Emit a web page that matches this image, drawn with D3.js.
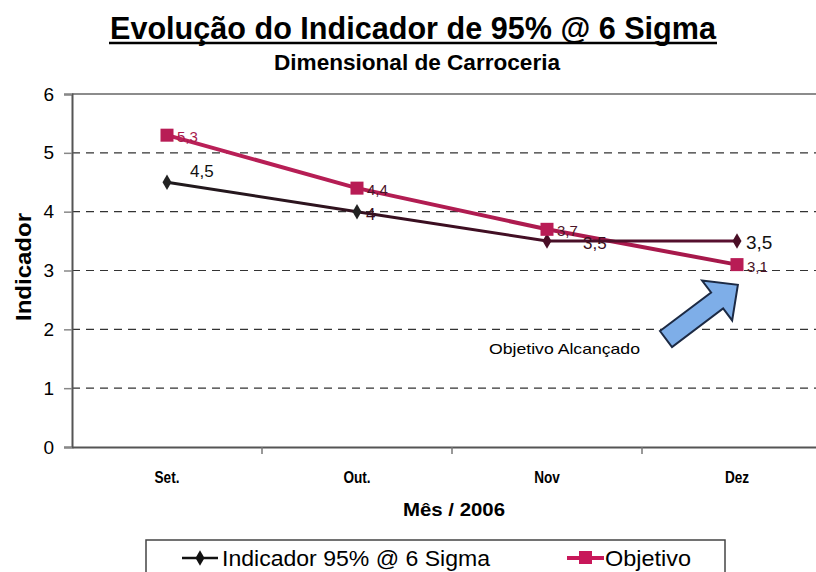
<!DOCTYPE html>
<html>
<head>
<meta charset="utf-8">
<script src="https://cdn.jsdelivr.net/npm/d3@7/dist/d3.min.js"></script>
<style>
  html, body { margin: 0; padding: 0; background: #fff; }
  svg { display: block; }
  text { font-family: "Liberation Sans", Arial, sans-serif; }
</style>
</head>
<body>
<svg id="chart" width="816" height="572"></svg>
<script>
// Data
const months = ["Set.", "Out.", "Nov", "Dez"];
const indicador = [4.5, 4.0, 3.5, 3.5];
const objetivo = [5.3, 4.4, 3.7, 3.1];
const yTicks = [0, 1, 2, 3, 4, 5, 6];
const seriesNames = ["Indicador 95% @ 6 Sigma", "Objetivo"];

const fmt = v => String(v).replace(".", ",");

const svg = d3.select("#chart");
const plot = { left: 72, right: 832, top: 94, bottom: 447 };

const x = d3.scaleBand().domain(months).range([plot.left, plot.right]);
const y = d3.scaleLinear().domain([0, 6]).range([plot.bottom, plot.top]);
const cx = m => x(m) + x.bandwidth() / 2;

// Narrow a text's glyphs to a fraction of their natural width
function condense(sel, k) {
  sel.each(function () {
    const w = this.getComputedTextLength();
    d3.select(this).attr("textLength", w * k).attr("lengthAdjust", "spacingAndGlyphs");
  });
}

// Stroke gradients along each line
const defs = svg.append("defs");
const gInd = defs.append("linearGradient").attr("id", "gradInd")
  .attr("gradientUnits", "userSpaceOnUse")
  .attr("x1", cx(months[0])).attr("x2", cx(months[3])).attr("y1", 0).attr("y2", 0);
gInd.append("stop").attr("offset", "0%").attr("stop-color", "#1e1a1c");
gInd.append("stop").attr("offset", "45%").attr("stop-color", "#3a0e20");
gInd.append("stop").attr("offset", "100%").attr("stop-color", "#5a1030");
const gObj = defs.append("linearGradient").attr("id", "gradObj")
  .attr("gradientUnits", "userSpaceOnUse")
  .attr("x1", cx(months[0])).attr("x2", cx(months[3])).attr("y1", 0).attr("y2", 0);
gObj.append("stop").attr("offset", "0%").attr("stop-color", "#bb2058");
gObj.append("stop").attr("offset", "100%").attr("stop-color", "#a5184a");

// Titles
svg.append("text").attr("x", 413).attr("y", 39).attr("text-anchor", "middle")
  .attr("font-size", 31).attr("font-weight", "bold")
  .attr("textLength", 606).attr("lengthAdjust", "spacingAndGlyphs")
  .text("Evolução do Indicador de 95% @ 6 Sigma");
svg.append("line").attr("x1", 109).attr("x2", 717).attr("y1", 43).attr("y2", 43)
  .attr("stroke", "#000").attr("stroke-width", 2.5);
svg.append("text").attr("x", 417).attr("y", 70).attr("text-anchor", "middle")
  .attr("font-size", 22).attr("font-weight", "bold")
  .attr("textLength", 286).attr("lengthAdjust", "spacingAndGlyphs")
  .text("Dimensional de Carroceria");

// Gridlines (dashed) and the solid top border
svg.append("g").selectAll("line").data(yTicks.filter(t => t > 0 && t < 6)).join("line")
  .attr("x1", plot.left).attr("x2", 816)
  .attr("y1", d => y(d)).attr("y2", d => y(d))
  .attr("stroke", "#333").attr("stroke-width", 1.2).attr("stroke-dasharray", "8,6");
svg.append("line").attr("x1", plot.left).attr("x2", 816)
  .attr("y1", y(6)).attr("y2", y(6)).attr("stroke", "#666").attr("stroke-width", 1.5);

// Y axis
const yAxis = d3.axisLeft(y).tickValues(yTicks).tickSize(8).tickPadding(10).tickFormat(d => d);
const gy = svg.append("g").attr("transform", `translate(${plot.left},0)`).call(yAxis);
gy.select(".domain").attr("stroke", "#555").attr("stroke-width", 2);
gy.selectAll(".tick line").attr("stroke", "#888").attr("stroke-width", 1.5);
gy.selectAll(".tick text").attr("font-size", 19).attr("fill", "#000")
  .style("font-family", "'Liberation Sans', Arial, sans-serif");

// X axis
const xAxis = d3.axisBottom(x).tickSize(0).tickPadding(0);
const gx = svg.append("g").attr("transform", `translate(0,${plot.bottom})`).call(xAxis);
gx.select(".domain").attr("stroke", "#555").attr("stroke-width", 2);
gx.selectAll(".tick text").attr("font-size", 17).attr("font-weight", "bold")
  .style("font-family", "'Liberation Sans', Arial, sans-serif")
  .attr("fill", "#000").attr("dy", 0).attr("y", 36).call(condense, 0.8);
// category separators
svg.append("g").selectAll("line").data(months.slice(1)).join("line")
  .attr("x1", d => x(d)).attr("x2", d => x(d))
  .attr("y1", plot.bottom).attr("y2", plot.bottom + 7)
  .attr("stroke", "#777").attr("stroke-width", 1.5);

// Axis titles
svg.append("text").attr("transform", "translate(31,267) rotate(-90)")
  .attr("text-anchor", "middle").attr("font-size", 22).attr("font-weight", "bold")
  .attr("textLength", 108).attr("lengthAdjust", "spacingAndGlyphs")
  .text("Indicador");
svg.append("text").attr("x", 454).attr("y", 516).attr("text-anchor", "middle")
  .attr("font-size", 19).attr("font-weight", "bold")
  .attr("textLength", 102).attr("lengthAdjust", "spacingAndGlyphs")
  .text("Mês / 2006");

// Lines
const line = d3.line().x((d, i) => cx(months[i])).y(d => y(d));
svg.append("path").datum(objetivo).attr("d", line)
  .attr("fill", "none").attr("stroke", "url(#gradObj)").attr("stroke-width", 4);
svg.append("path").datum(indicador).attr("d", line)
  .attr("fill", "none").attr("stroke", "url(#gradInd)").attr("stroke-width", 3);

// Markers
const diamond = d3.symbol().type(d3.symbolDiamond).size(70);
svg.append("g").selectAll("path").data(indicador).join("path")
  .attr("d", diamond)
  .attr("transform", (d, i) => `translate(${cx(months[i])},${y(d)})`)
  .attr("fill", (d, i) => i < 2 ? "#222" : "#4a0e26");
svg.append("g").selectAll("rect").data(objetivo).join("rect")
  .attr("x", (d, i) => cx(months[i]) - 6.5).attr("y", d => y(d) - 6.5)
  .attr("width", 13).attr("height", 13).attr("fill", "#b81c55");

// Value labels
svg.append("g").selectAll("text").data(objetivo).join("text")
  .attr("x", (d, i) => cx(months[i]) + 10).attr("y", d => y(d) + 7)
  .attr("font-size", 15).attr("fill", (d, i) => i === 0 ? "#a81a4c" : "#4a1428")
  .text(d => fmt(d));
svg.append("g").selectAll("text").data(indicador).join("text")
  .attr("x", (d, i) => cx(months[i]) + (i === 0 ? 23 : i === 2 ? 36 : 9))
  .attr("y", (d, i) => y(d) + (i === 0 ? -5 : 8))
  .attr("font-size", (d, i) => i === 3 ? 19 : 17)
  .attr("fill", (d, i) => i === 3 ? "#111" : i === 0 ? "#111" : "#3a0e20")
  .text(d => fmt(d));

// Callout arrow
const arrow = svg.append("g").attr("transform", "translate(666,339) rotate(-37)");
arrow.append("path")
  .attr("d", "M0,-10 L64,-10 L64,-25 L90,0 L64,25 L64,10 L0,10 Z")
  .attr("fill", "#7eaee8").attr("stroke", "#1c2a44").attr("stroke-width", 2)
  .attr("stroke-linejoin", "miter");
svg.append("text").attr("x", 489).attr("y", 354).attr("font-size", 15)
  .attr("textLength", 151).attr("lengthAdjust", "spacingAndGlyphs")
  .text("Objetivo Alcançado");

// Legend
const lg = svg.append("g");
lg.append("rect").attr("x", 146).attr("y", 540).attr("width", 579).attr("height", 40)
  .attr("fill", "#fff").attr("stroke", "#444").attr("stroke-width", 1.5);
lg.append("line").attr("x1", 182).attr("x2", 218).attr("y1", 558).attr("y2", 558)
  .attr("stroke", "#111").attr("stroke-width", 2.5);
lg.append("path").attr("d", diamond).attr("transform", "translate(200,558)").attr("fill", "#111");
lg.append("text").attr("x", 222).attr("y", 566).attr("font-size", 22)
  .attr("textLength", 268).attr("lengthAdjust", "spacingAndGlyphs")
  .text(seriesNames[0]);
lg.append("line").attr("x1", 567).attr("x2", 604).attr("y1", 558).attr("y2", 558)
  .attr("stroke", "#c8185a").attr("stroke-width", 4);
lg.append("rect").attr("x", 579).attr("y", 551).attr("width", 13).attr("height", 13).attr("fill", "#c8185a");
lg.append("text").attr("x", 605).attr("y", 566).attr("font-size", 22)
  .attr("textLength", 86).attr("lengthAdjust", "spacingAndGlyphs")
  .text(seriesNames[1]);
</script>
</body>
</html>
